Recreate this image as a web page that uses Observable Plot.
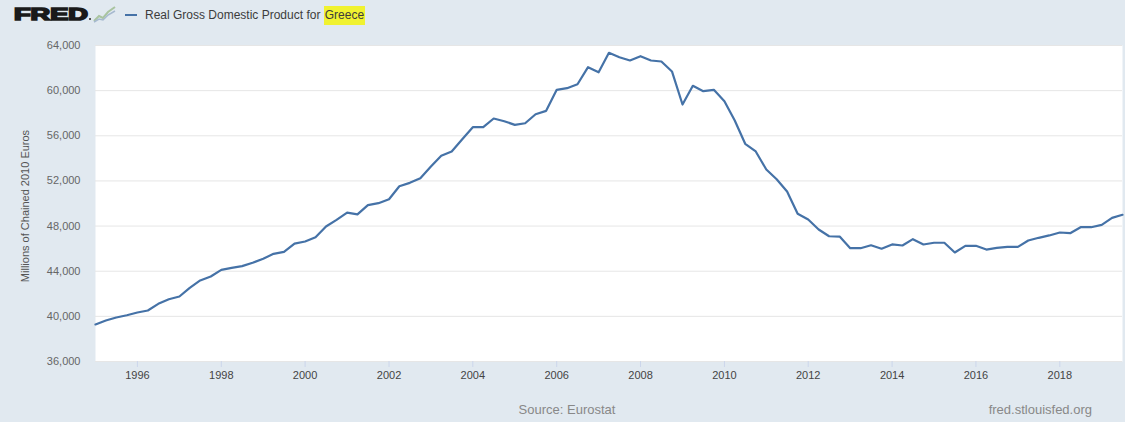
<!DOCTYPE html>
<html>
<head>
<meta charset="utf-8">
<script src="https://cdn.jsdelivr.net/npm/d3@7"></script>
<script src="https://cdn.jsdelivr.net/npm/@observablehq/plot@0.6"></script>
<style>
  html, body { margin: 0; padding: 0; background: #e1e9f0; }
  #wrap { position: relative; width: 1125px; height: 422px; background: #e1e9f0; overflow: hidden;
          font-family: "Liberation Sans", Arial, sans-serif; }
  #chart { position: absolute; left: 0; top: 0; }
  .abs { position: absolute; white-space: nowrap; }
  #ytitle { left: 25px; top: 206px; font-size: 11px; color: #555; transform: translate(-50%, -50%) rotate(-90deg); }
  #title { left: 145px; top: 7px; font-size: 12px; color: #3c3c3c; line-height: 16px; }
  #title .hl { background: #f0f230; padding: 2px 1px 3px 1px; }
  #source { left: 567px; top: 402px; transform: translateX(-50%); font-size: 13px; color: #888; }
  #site { right: 33px; top: 402px; font-size: 13px; color: #888; }
</style>
</head>
<body>
<div id="wrap">
  <div id="chart"></div>
  <svg class="abs" style="left:0;top:0" width="140" height="36">
    <text x="14" y="20" font-family="Liberation Sans, Arial, sans-serif" font-weight="bold" font-size="17"
          textLength="74" lengthAdjust="spacingAndGlyphs" fill="#1a1a1a" stroke="#1a1a1a" stroke-width="1.6">FRED</text>
    <rect x="89" y="18" width="2" height="2" fill="#555"/>
    <polyline points="94,21 99,16 103,18 108,12 115,7" fill="none" stroke="#a9c4a0" stroke-width="2"/>
    <polyline points="94,22 99,19 103,20 108,15 115,11" fill="none" stroke="#a6b9cf" stroke-width="1.5"/>
    <line x1="125" y1="15" x2="137" y2="15" stroke="#4572a7" stroke-width="2"/>
  </svg>
  <div id="title" class="abs">Real Gross Domestic Product for <span class="hl">Greece</span></div>
  <div id="ytitle" class="abs">Millions of Chained 2010 Euros</div>
  <div id="source" class="abs">Source: Eurostat</div>
  <div id="site" class="abs">fred.stlouisfed.org</div>
</div>
<script>
// Quarterly observations, 1995 Q1 through 2019 Q3 (millions of chained 2010 euros)
const startYear = 1995;
const gdpValues = [
  39280, 39630, 39900, 40100,
  40340, 40520, 41110, 41520,
  41760, 42530, 43180, 43530,
  44120, 44300, 44450, 44750,
  45100, 45540, 45720, 46450,
  46630, 47010, 47960, 48550,
  49190, 49030, 49850, 50030,
  50380, 51530, 51830, 52240,
  53280, 54230, 54610, 55700,
  56760, 56760, 57530, 57290,
  56970, 57110, 57910, 58210,
  60070, 60220, 60570, 62080,
  61630, 63350, 62960, 62670,
  63050, 62670, 62580, 61700,
  58770, 60430, 59950, 60070,
  59060, 57350, 55290, 54610,
  53010, 52150, 51060, 49090,
  48580, 47700, 47100, 47070,
  46040, 46040, 46300, 45990,
  46370, 46280, 46840, 46370,
  46520, 46520, 45660, 46250,
  46250, 45920, 46070, 46160,
  46160, 46720, 46960, 47170,
  47430, 47370, 47900, 47900,
  48110, 48730, 49000
];
const yTicks = [36000, 40000, 44000, 48000, 52000, 56000, 60000, 64000];
const xTickYears = [1996, 1998, 2000, 2002, 2004, 2006, 2008, 2010, 2012, 2014, 2016, 2018];

const data = gdpValues.map((v, i) => ({
  date: new Date(Date.UTC(startYear + Math.floor(i / 4), (i % 4) * 3, 1)),
  value: v
}));
const xTicks = xTickYears.map(y => new Date(Date.UTC(y, 0, 1)));

const chart = Plot.plot({
  width: 1125,
  height: 422,
  marginTop: 45,
  marginBottom: 61,
  marginLeft: 95,
  marginRight: 3,
  style: { background: "transparent", fontFamily: "Liberation Sans, Arial, sans-serif" },
  x: { type: "utc", domain: [new Date(Date.UTC(1995, 0, 1)), new Date(Date.UTC(2019, 6, 1))] },
  y: { domain: [36000, 64000] },
  marks: [
    Plot.frame({ fill: "white", stroke: null }),
    Plot.gridY(yTicks, { stroke: "#e6e6e6", strokeOpacity: 1 }),
    Plot.axisY(yTicks, { tickSize: 0, tickPadding: 15, tickFormat: d3.format(","), fill: "#666", fontSize: 11, label: null }),
    Plot.axisX(xTicks, { tickSize: 6, tickPadding: 4, stroke: "#ccd6eb", strokeOpacity: 1, tickFormat: d3.utcFormat("%Y"), fill: "#444", fontSize: 11, label: null }),
    Plot.line(data, { x: "date", y: "value", stroke: "#4572a7", strokeWidth: 2.2 })
  ]
});
document.getElementById("chart").appendChild(chart);
</script>
</body>
</html>
